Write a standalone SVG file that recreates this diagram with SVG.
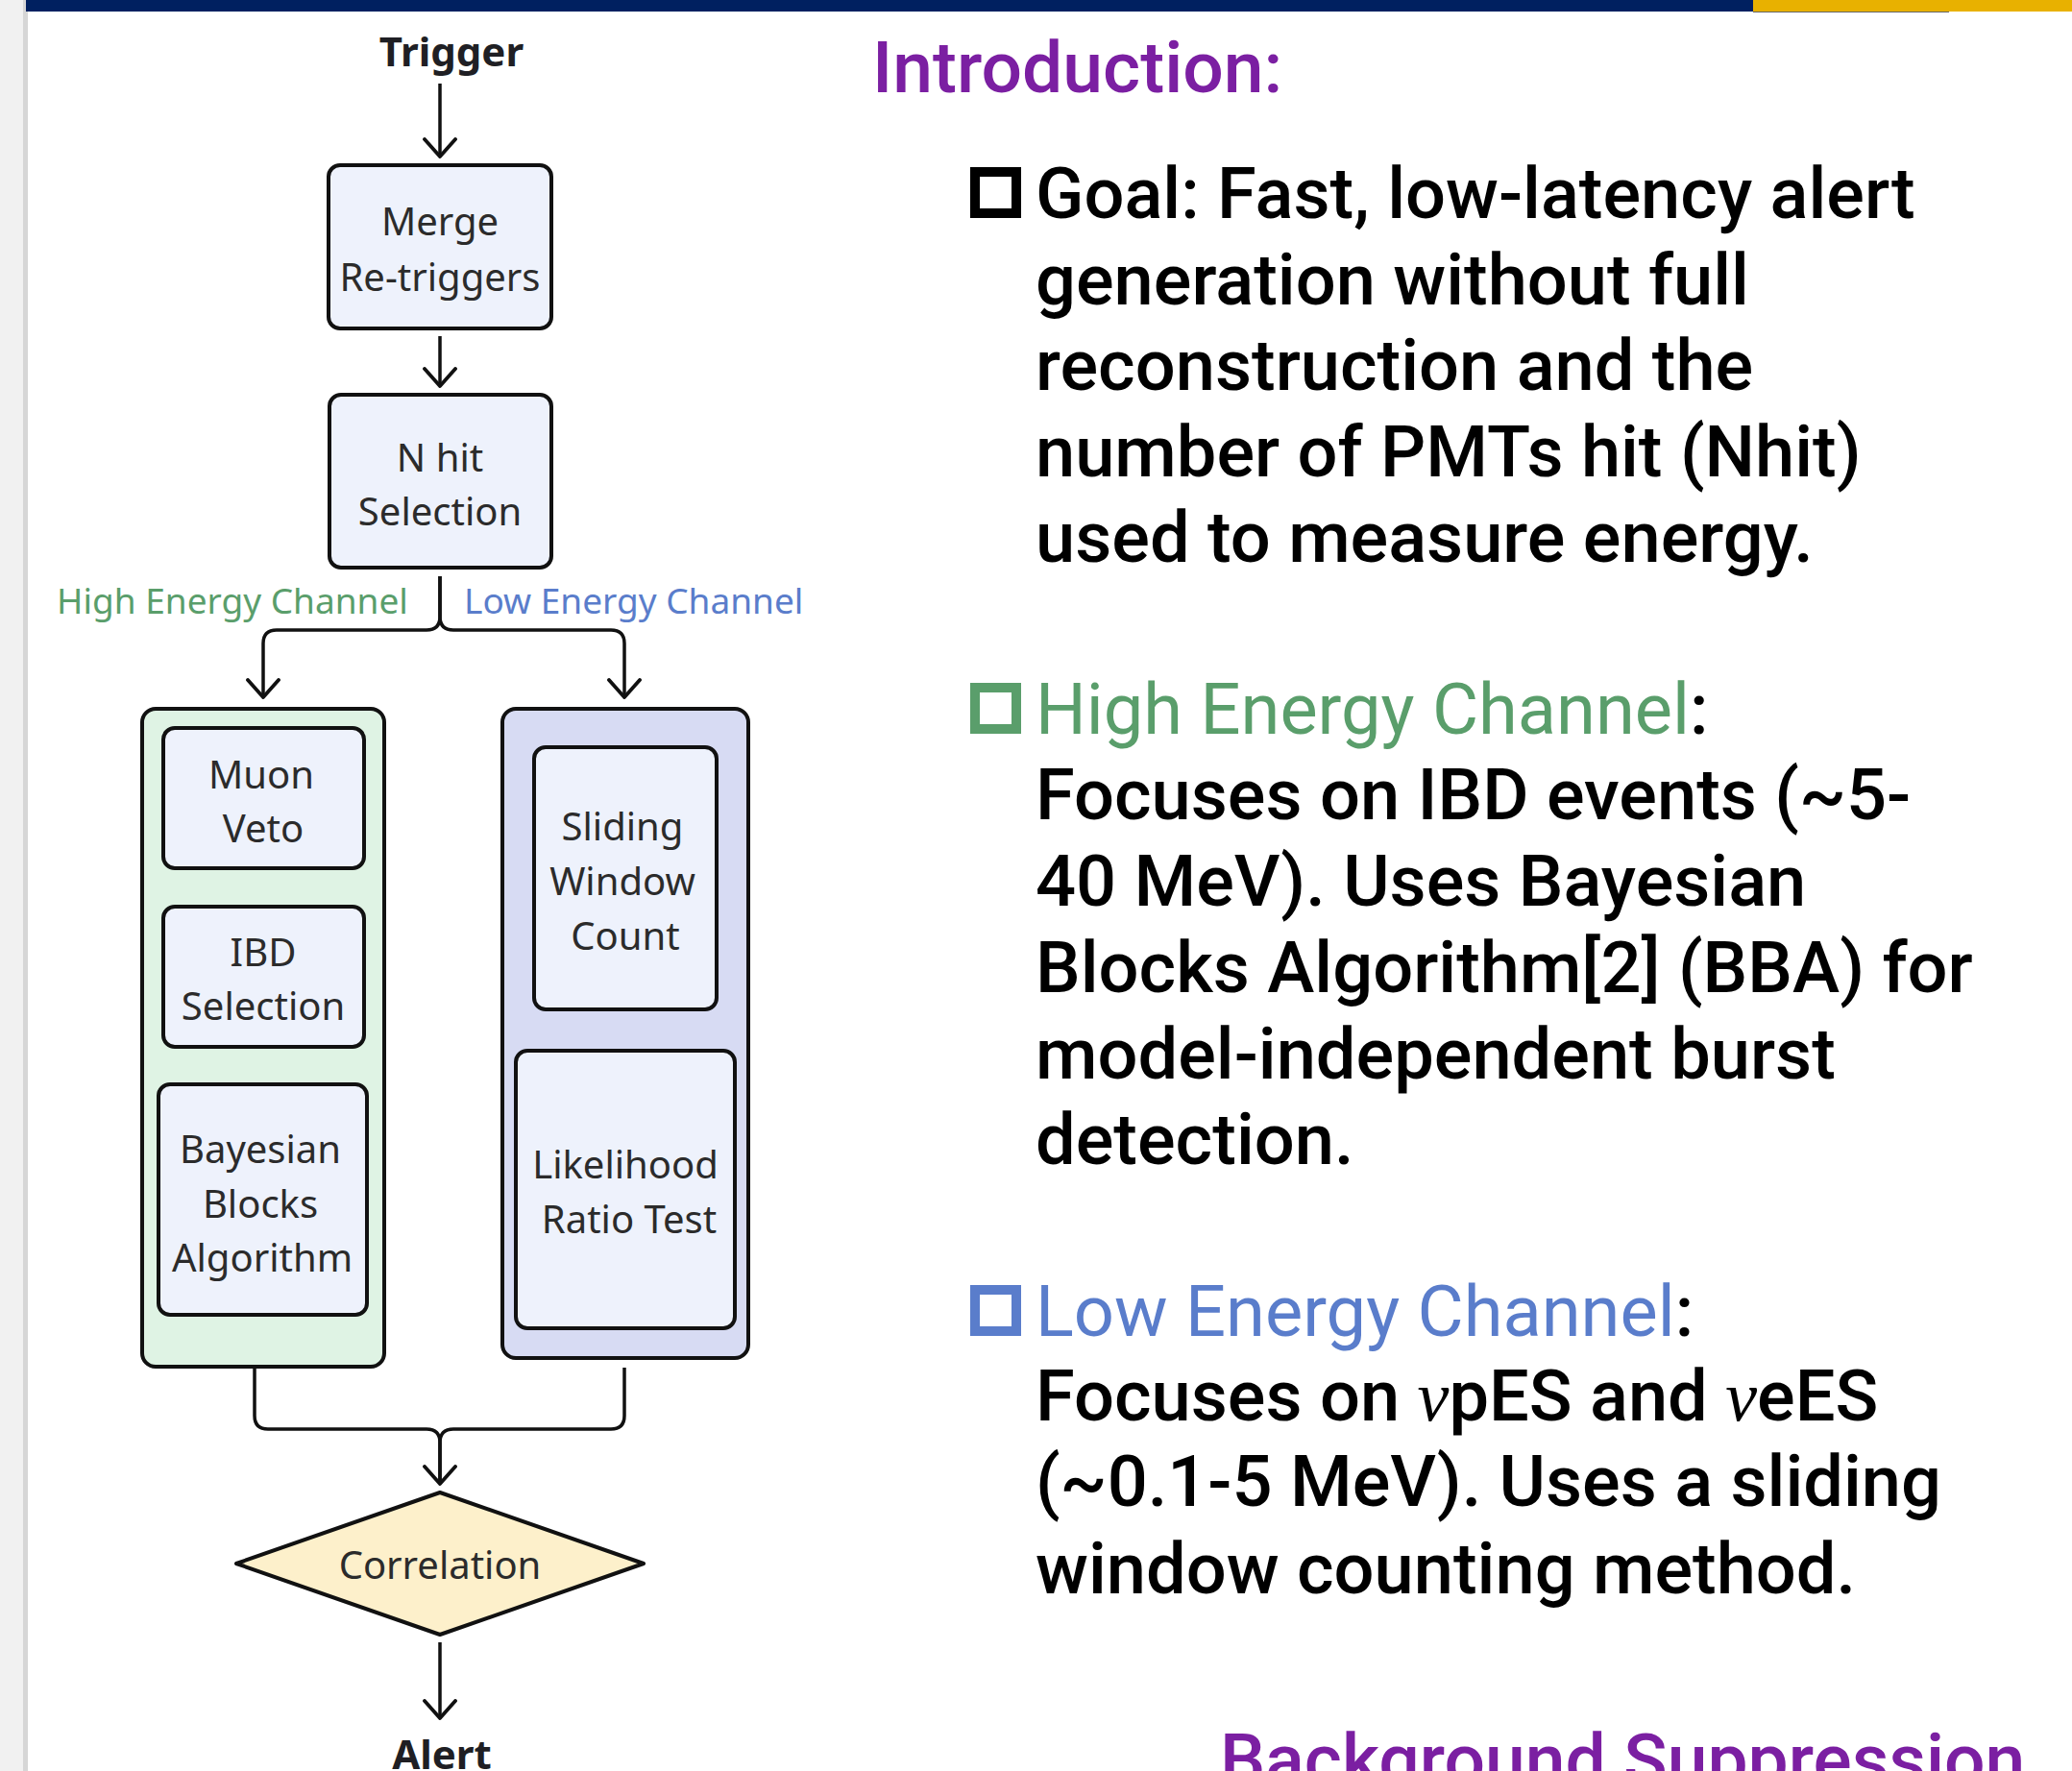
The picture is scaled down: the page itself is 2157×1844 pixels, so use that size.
<svg xmlns="http://www.w3.org/2000/svg" width="2157" height="1844" viewBox="0 0 2157 1844">
<defs>
<style>
.box{fill:#eef2fc;stroke:#111;stroke-width:4}
.lbl{font-family:"Noto Sans","Open Sans",sans-serif;font-size:40px;fill:#2b2b2b;text-anchor:middle}
.term{font-family:"Noto Sans","Open Sans",sans-serif;font-size:42px;font-weight:700;fill:#1f1f24;text-anchor:middle}
.ch{font-family:"Noto Sans","Open Sans",sans-serif;font-size:37px}
.conn{fill:none;stroke:#111;stroke-width:3.5;stroke-linejoin:round}
.rt{font-family:Roboto,"Noto Sans",sans-serif;font-size:74px;font-weight:500;fill:#000}
.hd{font-family:Roboto,"Noto Sans",sans-serif;font-size:75px;font-weight:500;fill:#7b1fa2}
.nu{font-family:"Liberation Serif",serif;font-style:italic;font-weight:400}
.bul{fill:none;stroke-width:10}
</style>
<marker id="arr" viewBox="-20 -20 40 40" markerWidth="40" markerHeight="40" refX="0" refY="0" orient="auto" markerUnits="userSpaceOnUse">
<path d="M-18,-16 L0,0 L-18,16" fill="none" stroke="#111" stroke-width="3.8" stroke-linejoin="round" stroke-linecap="round"/>
</marker>
</defs>
<rect x="0" y="0" width="2157" height="1844" fill="#fff"/>
<rect x="0" y="0" width="24" height="1844" fill="#f1f1f1"/>
<rect x="24" y="0" width="5" height="1844" fill="#d6d6d6"/>
<rect x="27" y="0" width="1798" height="12" fill="#002060"/>
<rect x="1825" y="0" width="332" height="12" fill="#e8b100"/>
<line x1="1825" y1="12.5" x2="2029" y2="12.5" stroke="#666" stroke-width="1"/>

<g id="connectors">
<path class="conn" d="M458 87 V163" marker-end="url(#arr)"/>
<path class="conn" d="M458 350 V402" marker-end="url(#arr)"/>
<path class="conn" d="M458 600 V642 Q458 656 444 656 H288 Q274 656 274 670 V726" marker-end="url(#arr)"/>
<path class="conn" d="M458 600 V642 Q458 656 472 656 H636 Q650 656 650 670 V726" marker-end="url(#arr)"/>
<path class="conn" d="M265 1424 V1474 Q265 1488 279 1488 H444 Q458 1488 458 1502 V1545" marker-end="url(#arr)"/>
<path class="conn" d="M650 1424 V1474 Q650 1488 636 1488 H472 Q458 1488 458 1502 V1545"/>
<path class="conn" d="M458 1710 V1789" marker-end="url(#arr)"/>
</g>

<g id="trigger"><text class="term" x="470" y="69">Trigger</text></g>
<g id="merge">
<rect class="box" x="342" y="172" width="232" height="170" rx="12"/>
<text class="lbl" x="458" y="245">Merge</text>
<text class="lbl" x="458" y="303">Re-triggers</text>
</g>
<g id="nhit">
<rect class="box" x="343" y="411" width="231" height="180" rx="12"/>
<text class="lbl" x="458" y="491">N hit</text>
<text class="lbl" x="458" y="547">Selection</text>
</g>
<g id="label-high"><text class="ch" x="59" y="639" fill="#5a9e6b">High Energy Channel</text></g>
<g id="label-low"><text class="ch" x="483" y="639" fill="#5a7dcb">Low Energy Channel</text></g>

<g id="high-channel">
<rect x="148" y="738" width="252" height="685" rx="14" fill="#dff3e4" stroke="#111" stroke-width="4"/>
</g>
<g id="muon-veto">
<rect class="box" x="170" y="758" width="209" height="146" rx="12"/>
<text class="lbl" x="272" y="821">Muon</text>
<text class="lbl" x="274" y="877">Veto</text>
</g>
<g id="ibd-selection">
<rect class="box" x="170" y="944" width="209" height="146" rx="12"/>
<text class="lbl" x="274" y="1006">IBD</text>
<text class="lbl" x="274" y="1062">Selection</text>
</g>
<g id="bba">
<rect class="box" x="165" y="1129" width="217" height="240" rx="12"/>
<text class="lbl" x="271" y="1211">Bayesian</text>
<text class="lbl" x="271" y="1268">Blocks</text>
<text class="lbl" x="273" y="1324">Algorithm</text>
</g>

<g id="low-channel">
<rect x="523" y="738" width="256" height="676" rx="14" fill="#d7dbf3" stroke="#111" stroke-width="4"/>
</g>
<g id="sliding-window">
<rect class="box" x="556" y="778" width="190" height="273" rx="12"/>
<text class="lbl" x="648" y="875">Sliding</text>
<text class="lbl" x="648" y="932">Window</text>
<text class="lbl" x="651" y="989">Count</text>
</g>
<g id="likelihood">
<rect class="box" x="537" y="1094" width="228" height="289" rx="12"/>
<text class="lbl" x="651" y="1227">Likelihood</text>
<text class="lbl" x="655" y="1284">Ratio Test</text>
</g>

<g id="correlation">
<polygon points="458,1554 670,1628 458,1702 246,1628" fill="#fdf0cb" stroke="#111" stroke-width="4" stroke-linejoin="round"/>
<text class="lbl" x="458" y="1644">Correlation</text>
</g>
<g id="alert"><text class="term" x="460" y="1842">Alert</text></g>

<g id="intro">
<text class="hd" x="908" y="96">Introduction:</text>
<rect class="bul" x="1015" y="179" width="43" height="43" stroke="#000"/>
<text class="rt" x="1078" y="227">Goal: Fast, low-latency alert</text>
<text class="rt" x="1078" y="317">generation without full</text>
<text class="rt" x="1078" y="406">reconstruction and the</text>
<text class="rt" x="1078" y="496">number of PMTs hit (Nhit)</text>
<text class="rt" x="1078" y="585">used to measure energy.</text>

<rect class="bul" x="1015" y="716" width="43" height="43" stroke="#5a9e6b"/>
<text class="rt" x="1078" y="764"><tspan fill="#5a9e6b" font-weight="400">High Energy Channel</tspan>:</text>
<text class="rt" x="1078" y="853">Focuses on IBD events (~5-</text>
<text class="rt" x="1078" y="943">40 MeV). Uses Bayesian</text>
<text class="rt" x="1078" y="1033">Blocks Algorithm[2] (BBA) for</text>
<text class="rt" x="1078" y="1123">model-independent burst</text>
<text class="rt" x="1078" y="1212">detection.</text>

<rect class="bul" x="1015" y="1343" width="43" height="43" stroke="#5a7dcb"/>
<text class="rt" x="1078" y="1391"><tspan fill="#5a7dcb" font-weight="400">Low Energy Channel</tspan>:</text>
<text class="rt" x="1078" y="1479">Focuses on <tspan class="nu">ν</tspan>pES and <tspan class="nu">ν</tspan>eES</text>
<text class="rt" x="1078" y="1568">(~0.1-5 MeV). Uses a sliding</text>
<text class="rt" x="1078" y="1659">window counting method.</text>

<text class="hd" x="1270" y="1858">Background Suppression</text>
</g>
</svg>
